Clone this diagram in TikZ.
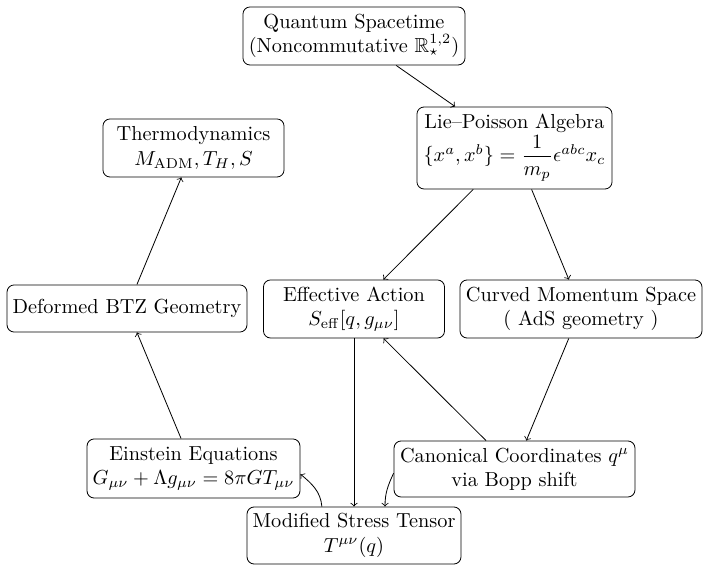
\documentclass[tikz,border=0pt]{standalone}
\usepackage{amsmath,amssymb}
\begin{document}
\begin{tikzpicture}[x=0.4926pt,y=0.4926pt,
  box/.style={draw, rounded corners=3.5pt, align=center, inner sep=2pt},
  arr/.style={->}]
\path[use as bounding box] (0,0) rectangle (709,-572);
\node[box, minimum width=109.4pt, minimum height=28.6pt] (qs) at (354,-36)
  {Quantum Spacetime\\(Noncommutative $\mathbb{R}^{1,2}_{\star}$)};
\node[box, minimum width=96.1pt, minimum height=40.4pt] (lp) at (514.5,-148)
  {Lie--Poisson Algebra\\$\{x^a,x^b\}=\dfrac{1}{m_p}\epsilon^{abc}x_c$};
\node[box, minimum width=89.2pt, minimum height=28.6pt] (th) at (193.5,-148)
  {Thermodynamics\\$M_{\mathrm{ADM}},T_H,S$};
\node[box, minimum width=118.2pt, minimum height=23.2pt] (btz) at (127,-308.5)
  {Deformed BTZ Geometry};
\node[box, minimum width=89.2pt, minimum height=28.6pt] (ea) at (354,-309)
  {Effective Action\\$S_{\mathrm{eff}}[q,g_{\mu\nu}]$};
\node[box, minimum width=119.2pt, minimum height=28.6pt] (cm) at (581,-309)
  {Curved Momentum Space\\( AdS geometry )};
\node[box, minimum width=118.7pt, minimum height=27.6pt] (cc) at (514.5,-469)
  {Canonical Coordinates $q^\mu$\\via Bopp shift};
\node[box, minimum width=104.9pt, minimum height=29.1pt] (ee) at (193.5,-468.5)
  {Einstein Equations\\$G_{\mu\nu}+\Lambda g_{\mu\nu}=8\pi G T_{\mu\nu}$};
\node[box, minimum width=105.4pt, minimum height=28.1pt] (ms) at (354,-535.5)
  {Modified Stress Tensor\\$T^{\mu\nu}(q)$};
\draw[arr] (qs) -- (lp);
\draw[arr] (lp) -- (ea);
\draw[arr] (lp) -- (cm);
\draw[arr] (cm) -- (cc);
\draw[arr] (cc) -- (ea);
\draw[arr] (ea) -- (ms);
\draw[arr] (ee) -- (btz);
\draw[arr] (btz) -- (th);
\draw[arr] (cc.182) to[out=245,in=90] (ms.43);
\draw[arr] (ms.138) to[out=95,in=-40] (ee.-3);
\end{tikzpicture}
\end{document}
